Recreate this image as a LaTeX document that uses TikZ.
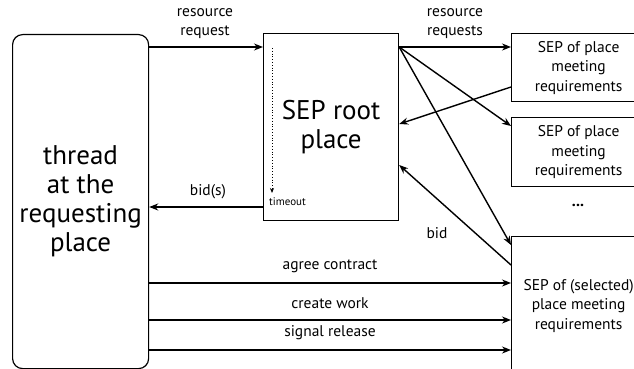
\documentclass[tikz,border=0pt]{standalone}
\usepackage{fontspec}
\setmainfont{PT Sans}
\usetikzlibrary{arrows.meta,calc}
\begin{document}
\begin{tikzpicture}[x=1pt,y=-1pt,
  box/.style={draw, line width=1.2pt, anchor=north west, inner sep=0pt, align=center},
  arr/.style={line width=1.4pt, -{Stealth[length=9pt,width=7pt]}},
  lbl/.style={font=\fontsize{15.5}{19}\selectfont, align=center, inner sep=0pt},
  big/.style={font=\fontsize{27}{29}\selectfont},
  mid/.style={font=\fontsize{15.5}{19.5}\selectfont}]
\useasboundingbox (0,0) rectangle (634,369);
\node[box, rounded corners=10pt, minimum width=136pt, minimum height=334pt, big] (thread) at (12,34) {thread\\at the\\requesting\\place};
\node[box, minimum width=135pt, minimum height=187pt, big] (root) at (263,33) {SEP root\\place};
\node[box, minimum width=134pt, minimum height=68pt, mid] (sep1) at (511,33) {SEP of place\\meeting\\requirements};
\node[box, minimum width=134pt, minimum height=69pt, mid] (sep2) at (511,117) {SEP of place\\meeting\\requirements};
\node[box, minimum width=134pt, minimum height=138pt, mid] (sep3) at (511,236) {SEP of (selected)\\place meeting\\requirements};
% labels
\node[lbl] (l1) at (205,24) {resource\\request};
\node[lbl] (l2) at (455,24) {resource\\requests};
\node[lbl] (l3) at (208,192) {bid(s)};
\node[lbl] (l4) at (437,233) {bid};
\node[lbl] (l5) at (330,266) {agree contract};
\node[lbl] (l6) at (330,303) {create work};
\node[lbl] (l7) at (330,333) {signal release};
\node[lbl, font=\fontsize{11}{13}\selectfont, anchor=west] (to) at (269,202) {timeout};
\node[lbl, font=\bfseries\fontsize{16}{18}\selectfont] (dots) at (578,205) {...};
% timeout dotted arrow
\coordinate (t1) at ($(root.north west)+(9,15)$);
\coordinate (t2) at ($(root.north west)+(9,160)$);
\draw[line width=0.8pt, dotted, -{Stealth[length=5pt,width=4pt]}] (t1) -- (t2);
% arrows
\draw[arr] ($(thread.north east)+(0,13)$) -- ($(root.north west)+(0,14)$);
\draw[arr] ($(root.north east)+(0,14)$) -- ($(sep1.north west)+(0,14)$);
\draw[arr] ($(root.north east)+(0,14)$) -- ($(sep2.north west)+(0,9)$);
\draw[arr] ($(root.north east)+(0,14)$) -- ($(sep3.north west)+(0,9)$);
\draw[arr] ($(sep1.north west)+(0,54)$) -- ($(root.north east)+(0,91)$);
\draw[arr] ($(sep3.north west)+(0,29)$) -- ($(root.north east)+(0,132)$);
\draw[arr] ($(root.north west)+(0,174)$) -- ($(thread.north east)+(0,173)$);
\draw[arr] ($(thread.north east)+(0,249)$) -- ($(sep3.north west)+(0,47)$);
\draw[arr] ($(thread.north east)+(0,286)$) -- ($(sep3.north west)+(0,84)$);
\draw[arr] ($(thread.north east)+(0,316)$) -- ($(sep3.north west)+(0,114)$);
\end{tikzpicture}
\end{document}
